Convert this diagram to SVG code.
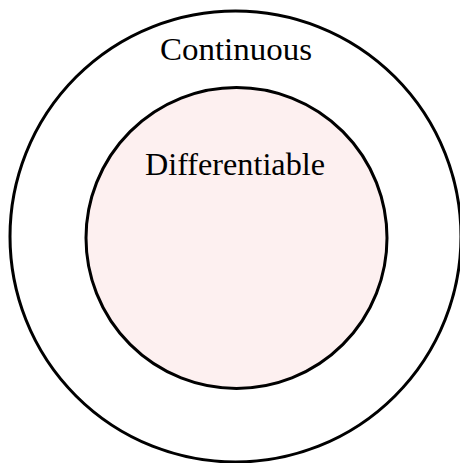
<svg xmlns="http://www.w3.org/2000/svg" width="460" height="463" viewBox="0 0 460 463">
<style>
.c{stroke:#000;stroke-width:3}
.t{font-family:"Liberation Serif",serif;font-size:31px;fill:#000;text-anchor:middle}
</style>
<rect width="460" height="463" fill="#fff"/>
<g id="continuous">
<circle class="c" cx="235.5" cy="236.5" r="225.5" fill="#fff"/>
<text class="t" x="236" y="60" textLength="152" lengthAdjust="spacingAndGlyphs">Continuous</text>
</g>
<g id="differentiable">
<circle class="c" cx="236.5" cy="238" r="150.5" fill="#fdf0f0"/>
<text class="t" x="235" y="175" textLength="180" lengthAdjust="spacingAndGlyphs">Differentiable</text>
</g>
<g id="connectors"/>
</svg>
